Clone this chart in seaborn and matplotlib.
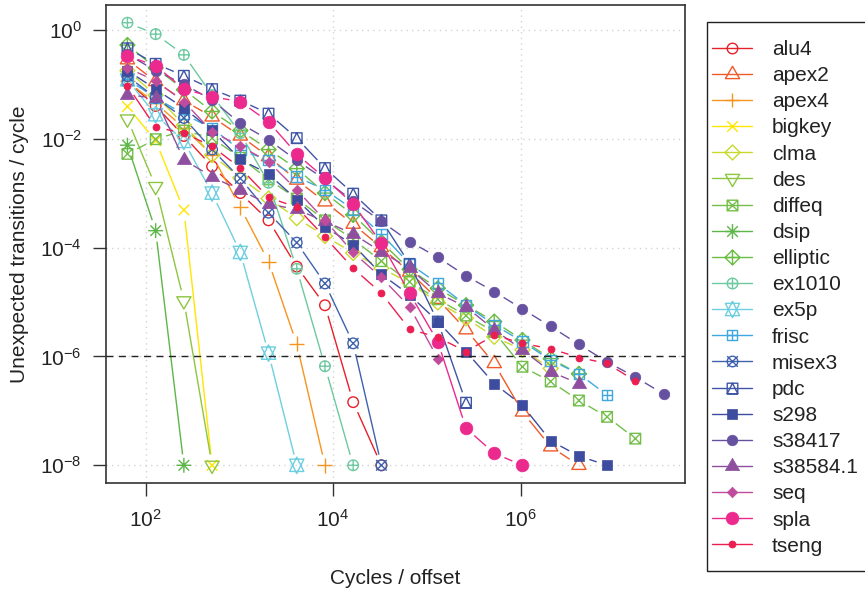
import numpy as np
import matplotlib
matplotlib.use("Agg")
import matplotlib.pyplot as plt
from matplotlib.path import Path
from matplotlib.lines import Line2D
from matplotlib.markers import MarkerStyle
from matplotlib.collections import LineCollection
from matplotlib.patches import Rectangle
import seaborn as sns
import pandas as pd

# ---------------- data (log10 of transitions / cycle), x = offsets 2^6 .. 2^25
CYCLES = [64, 128, 256, 512, 1024, 2048, 4096, 8192, 16384, 32768, 65536,
          131072, 262144, 524288, 1048576, 2097152, 4194304, 8388608,
          16777216, 33554432]

NAMES = ["alu4", "apex2", "apex4", "bigkey", "clma", "des", "diffeq", "dsip",
         "elliptic", "ex1010", "ex5p", "frisc", "misex3", "pdc", "s298",
         "s38417", "s38584.1", "seq", "spla", "tseng"]

alu4 = [-0.95, -1.40, -1.95, -2.51, -3.00, -3.50, -4.35, -5.06, -6.84, -8]
apex2 = [-0.55, -0.95, -1.30, -1.60, -1.95, -2.33, -2.76, -3.16, -3.57, -4.00,
         -4.45, -4.95, -5.51, -6.13, -7.02, -7.66, -8]
apex4 = [-0.95, -1.35, -1.80, -2.30, -3.26, -4.26, -5.77, -8]
bigkey = [-1.41, -2.04, -3.31, -8]
clma = [-0.75, -1.20, -1.75, -2.30, -2.72, -3.10, -3.46, -3.79, -4.10, -4.38,
        -4.65, -5.01, -5.30, -5.64, -5.88, -6.22]
des = [-1.64, -2.88, -4.98, -8]
diffeq = [-2.28, -2.01, -1.85, -1.99, -2.35, -2.75, -3.10, -3.50, -3.85, -4.25,
          -4.63, -4.95, -5.25, -5.55, -6.19, -6.46, -6.81, -7.11, -7.51]
dsip = [-2.12, -3.69, -8]
elliptic = [-0.28, -0.70, -1.10, -1.50, -1.85, -2.20, -2.55, -3.00, -3.40,
            -3.90, -4.40, -4.75, -5.06, -5.36, -5.70, -6.04, -6.32]
ex1010 = [0.13, -0.08, -0.46, -1.20, -1.90, -2.81, -4.39, -6.18, -8]
ex5p = [-0.92, -1.56, -2.05, -3.00, -4.09, -5.94, -8]
frisc = [-0.91, -1.25, -1.55, -1.81, -2.21, -2.39, -2.70, -2.94, -3.30, -3.75,
         -4.30, -4.66, -5.06, -5.42, -5.73, -6.07, -6.32, -6.71]
misex3 = [-0.85, -1.25, -1.62, -2.20, -2.73, -3.36, -3.91, -4.66, -5.76, -8]
pdc = [-0.34, -0.625, -0.845, -1.09, -1.30, -1.54, -1.99, -2.54, -3.01, -3.50,
       -4.30, -5.36, -6.85]
s298 = [-0.75, -1.09, -1.44, -1.85, -2.38, -2.65, -3.12, -3.62, -3.95, -4.49,
        -4.87, -5.36, -5.91, -6.50, -6.90, -7.55, -7.83, -8]
s38417 = [-0.45, -0.75, -1.00, -1.29, -1.72, -2.02, -2.40, -2.75, -3.15, -3.52,
          -3.89, -4.18, -4.52, -4.81, -5.13, -5.45, -5.78, -6.10, -6.38, -6.69]
s38584_1 = [-1.19, -1.26, -2.39, -2.70, -2.95, -3.20, -3.30, -3.52, -3.75,
            -4.08, -4.38, -4.84, -5.09, -5.51, -5.88, -6.28, -6.50]
seq = [-0.70, -0.94, -1.32, -1.87, -2.14, -2.42, -2.94, -3.50, -4.09, -4.55,
       -5.09, -6.04]
spla = [-0.48, -0.66, -1.09, -1.23, -1.32, -1.69, -2.28, -2.73, -3.20, -3.92,
        -4.84, -5.73, -7.32, -7.78, -8]
tseng = [-1.03, -1.79, -1.90, -2.14, -2.54, -3.08, -3.26, -3.81, -4.38, -4.84,
         -5.50, -5.65, -5.91, -5.61, -5.76, -5.86, -6.02, -6.13, -6.45]

SERIES = [alu4, apex2, apex4, bigkey, clma, des, diffeq, dsip, elliptic, ex1010,
          ex5p, frisc, misex3, pdc, s298, s38417, s38584_1, seq, spla, tseng]

COLORS = ["#E8202A", "#F05A28", "#F7941E", "#FFE600", "#C9D92B", "#8DC63F",
          "#74BF4B", "#5DB648", "#6CBD45", "#6CC9A0", "#6ECFE0", "#40A8E0",
          "#3F62AD", "#3F55A5", "#3D4C9E", "#6650A0", "#8E4F9F", "#BE4B9B",
          "#EC2A8D", "#EC1E51"]

# ---------------- R-like pch markers
M, L, C = Path.MOVETO, Path.LINETO, Path.CLOSEPOLY
def poly(pts):
    v = list(pts) + [pts[0]]
    return Path(v, [M] + [L] * (len(pts) - 1) + [C])
def seg(a, b):
    return Path([a, b], [M, L])
def comp(*ps):
    return Path.make_compound_path(*ps)

circ = Path.unit_circle()
sq = poly([(-1, -1), (1, -1), (1, 1), (-1, 1)])
t0 = 1.5551; t1 = t0 * np.sqrt(3) / 2; t2 = t0 / 2
tri_up = poly([(0, t0), (t1, -t2), (-t1, -t2)])
tri_dn = poly([(0, -t0), (t1, t2), (-t1, t2)])
r2 = np.sqrt(2)
dia = poly([(r2, 0), (0, r2), (-r2, 0), (0, -r2)])
dia_s = poly([(1, 0), (0, 1), (-1, 0), (0, -1)])
plus1 = comp(seg((-1, 0), (1, 0)), seg((0, -1), (0, 1)))
plus2 = comp(seg((-r2, 0), (r2, 0)), seg((0, -r2), (0, r2)))
cross1 = comp(seg((-1, -1), (1, 1)), seg((-1, 1), (1, -1)))
yc = 0.5 * (t2 + t0)
star_a = poly([(0, -t0), (t1, yc), (-t1, yc)])
star_b = poly([(0, t0), (t1, -yc), (-t1, -yc)])
tri_in = poly([(0, 1), (1, -1), (-1, -1)])

# (path, filled, scale relative to radius)
MARKERS = [
    (circ, False, 1.0), (tri_up, False, 1.0), (plus2, False, 1.0),
    (cross1, False, 1.0), (dia, False, 1.0), (tri_dn, False, 1.0),
    (comp(sq, cross1), False, 1.0), (comp(plus2, cross1), False, 1.0),
    (comp(dia, plus2), False, 1.0), (comp(circ, plus1), False, 1.0),
    (comp(star_a, star_b), False, 1.0), (comp(sq, plus1), False, 1.0),
    (comp(circ, cross1), False, 1.0), (comp(sq, tri_in), False, 1.0),
    (sq, True, 1.0), (circ, True, 1.0), (tri_up, True, 1.0),
    (dia_s, True, 1.0), (circ, True, 1.2), (circ, True, 0.667),
]

RAD_PT = 3.8       # marker radius in points
LW = 1.0
GAP_PX = 11.0
FS = 15

sns.set_theme(style="white")
plt.rcParams['font.family'] = ['Liberation Sans', 'DejaVu Sans']
plt.rcParams['mathtext.default'] = 'regular'

fig = plt.figure(figsize=(8.65, 5.91), dpi=100)
W, H = 865, 591
ax = fig.add_axes([106 / W, 1 - 483 / H, (685 - 106) / W, (483 - 5) / H])
ax.set_xscale('log')
ax.set_yscale('log')

allx = np.log10(CYCLES)
ally = np.concatenate([np.array(s) for s in SERIES])
xr = (allx.min(), allx.max())
yr = (ally.min(), ally.max())
ax.set_xlim(10 ** (xr[0] - 0.04 * (xr[1] - xr[0])), 10 ** (xr[1] + 0.04 * (xr[1] - xr[0])))
ax.set_ylim(10 ** (yr[0] - 0.04 * (yr[1] - yr[0])), 10 ** (yr[1] + 0.04 * (yr[1] - yr[0])))

for gx in [1e2, 1e4, 1e6]:
    ax.axvline(gx, color='#D3D3D3', lw=1.0, ls=(0, (1, 3)), zorder=0.5)
for gy in [1e0, 1e-2, 1e-4, 1e-6, 1e-8]:
    ax.axhline(gy, color='#D3D3D3', lw=1.0, ls=(0, (1, 3)), zorder=0.5)

trans = ax.transData
inv = trans.inverted()

def marker_size(mk):
    path, filled, sc = mk
    return 2 * RAD_PT * np.abs(path.vertices).max() * sc

for i, (name, vals, col, mk) in enumerate(zip(NAMES, SERIES, COLORS, MARKERS)):
    path, filled, sc = mk
    x = np.array(CYCLES[:len(vals)], dtype=float)
    y = np.power(10.0, np.array(vals, dtype=float))
    df = pd.DataFrame({"cycles": x, "rate": y})
    pts = trans.transform(np.column_stack([x, y]))
    segs = []
    for j in range(len(pts) - 1):
        p0, p1 = pts[j], pts[j + 1]
        d = np.hypot(*(p1 - p0))
        if d > 2 * GAP_PX:
            f = GAP_PX / d
            a = p0 + f * (p1 - p0)
            b = p1 - f * (p1 - p0)
            segs.append(inv.transform(np.vstack([a, b])))
    lc = LineCollection(segs, colors=col, linewidths=LW, zorder=3 + i, capstyle='butt')
    ax.add_collection(lc)
    msize = marker_size(mk)
    sns.scatterplot(data=df, x="cycles", y="rate", ax=ax, marker=MarkerStyle(path),
                    s=msize ** 2, color=col,
                    facecolor=(col if filled else 'none'), edgecolor=col,
                    linewidth=(0.5 if filled else LW), legend=False,
                    zorder=3.5 + i)

ax.axhline(1e-6, color='#222222', lw=1.0, ls=(0, (5, 4)), zorder=30)

ax.set_xticks([1e2, 1e4, 1e6])
ax.set_xticklabels([r'$10^{2}$', r'$10^{4}$', r'$10^{6}$'])
ax.set_yticks([1e0, 1e-2, 1e-4, 1e-6, 1e-8])
ax.set_yticklabels([r'$10^{0}$', r'$10^{-2}$', r'$10^{-4}$', r'$10^{-6}$', r'$10^{-8}$'])
ax.minorticks_off()
ax.tick_params(axis='both', which='major', direction='out', length=9.4, width=1.0,
               color='#333333', labelsize=FS, colors='#222222',
               bottom=True, left=True)
ax.tick_params(axis='y', pad=8)
ax.tick_params(axis='x', pad=9)
for sp in ax.spines.values():
    sp.set_visible(True)
    sp.set_color('#333333')
    sp.set_linewidth(1.2)
ax.set_xlabel("Cycles / offset", fontsize=FS, color='#222222', labelpad=28)
ax.set_ylabel("Unexpected transitions / cycle", fontsize=FS, color='#222222', labelpad=8)

# legend box (R style, runs off the right edge)
fig.patches.append(Rectangle((707 / W, 1 - 571 / H), 200 / W, (571 - 22) / H,
                             transform=fig.transFigure, fill=False,
                             edgecolor='#222222', linewidth=1.0))
handles = []
for name, col, mk in zip(NAMES, COLORS, MARKERS):
    path, filled, sc = mk
    h = Line2D([0], [0], color=col, lw=LW, marker=MarkerStyle(path),
               markersize=marker_size(mk), markerfacecolor=(col if filled else 'none'),
               markeredgecolor=col, markeredgewidth=(0.5 if filled else LW))
    handles.append(h)
leg = fig.legend(handles, NAMES, loc='upper left',
                 bbox_to_anchor=(712 / W, 1 - 40 / H), bbox_transform=fig.transFigure,
                 fontsize=FS, frameon=False,
                 handlelength=1.92, handletextpad=0.96, labelspacing=0.343,
                 borderpad=0, borderaxespad=0)
for t in leg.get_texts():
    t.set_color('#222222')

fig.savefig("out.png", dpi=100)
